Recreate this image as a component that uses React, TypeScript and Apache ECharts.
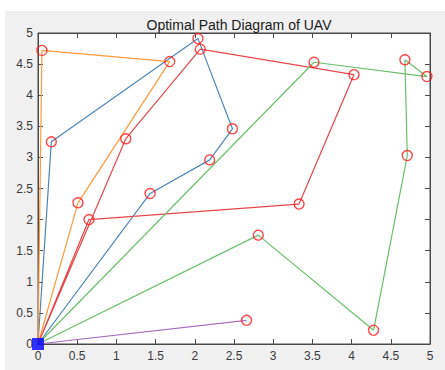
import React, { useEffect, useRef } from "react";
import * as echarts from "echarts";

const title = "Optimal Path Diagram of UAV";
const origin: [number, number] = [0, 0];
const bluePath: [number, number][] = [[0, 0], [0.17, 3.25], [2.04, 4.91], [2.48, 3.46], [2.19, 2.96], [1.43, 2.42], [0, 0]];
const orangePath: [number, number][] = [[0, 0], [0.05, 4.72], [1.68, 4.54], [0.51, 2.27], [0, 0]];
const redPath: [number, number][] = [[0, 0], [0.65, 2.0], [3.33, 2.25], [4.03, 4.33], [2.07, 4.74], [1.12, 3.3], [0, 0]];
const greenPath: [number, number][] = [[0, 0], [3.52, 4.53], [4.96, 4.3], [4.68, 4.57], [4.71, 3.03], [4.28, 0.22], [2.81, 1.75], [0, 0]];
const purplePath: [number, number][] = [[0, 0], [2.66, 0.38], [0, 0]];

const pathColors = ["#4f86b8", "#ff9a3c", "#e8474a", "#6cbf6c", "#a66cc1"];
const paths = [bluePath, orangePath, redPath, greenPath, purplePath];

export default function App() {
  const ref = useRef<HTMLDivElement>(null);
  useEffect(() => {
    if (!ref.current) return;
    const chart = echarts.init(ref.current, undefined, { renderer: "svg" });
    const axisCommon = {
      type: "value" as const,
      min: 0,
      max: 5,
      interval: 0.5,
      splitLine: { show: false },
      axisLine: { show: true, onZero: false, lineStyle: { color: "#4a4a4a", width: 1 } },
      axisTick: { show: true, inside: true, length: 5, lineStyle: { color: "#4a4a4a" } },
    };
    const labelStyle = {
      color: "#3a3a3a",
      fontSize: 12,
      fontFamily: "Liberation Sans, Arial, sans-serif",
      formatter: (v: number) => String(v),
    };
    const waypoints: [number, number][] = [];
    paths.forEach((p) => p.forEach((pt) => {
      if (!(pt[0] === 0 && pt[1] === 0)) waypoints.push(pt);
    }));
    const series: any[] = paths.map((p, i) => ({
      type: "line",
      data: p,
      symbol: "none",
      lineStyle: { color: pathColors[i], width: 1.2 },
      z: 2,
    }));
    series.push({
      type: "scatter",
      data: waypoints,
      symbol: "circle",
      symbolSize: 10,
      itemStyle: { color: "rgba(255,255,255,0)", borderColor: "#ff1a1a", borderWidth: 1.4 },
      z: 3,
    });
    series.push({
      type: "scatter",
      data: [origin],
      symbol: "rect",
      symbolSize: 12,
      itemStyle: { color: "#0000ff" },
      z: 4,
    });
    chart.setOption({
      animation: false,
      backgroundColor: "#f0f0f0",
      title: {
        text: title,
        left: 229,
        top: 2,
        textAlign: "center",
        textStyle: { fontSize: 14, fontWeight: "normal", color: "#1a1a1a", fontFamily: "Liberation Sans, Arial, sans-serif" },
      },
      grid: {
        left: 33,
        right: 15,
        top: 22,
        bottom: 26,
        show: true,
        backgroundColor: "#ffffff",
        borderColor: "#4a4a4a",
        borderWidth: 1,
      },
      xAxis: [
        { ...axisCommon, position: "bottom", axisLabel: { ...labelStyle, margin: 6 } },
        { ...axisCommon, position: "top", axisLabel: { show: false } },
      ],
      yAxis: [
        { ...axisCommon, position: "left", axisLabel: { ...labelStyle, margin: 5 } },
        { ...axisCommon, position: "right", axisLabel: { show: false } },
      ],
      series,
    });
    return () => chart.dispose();
  }, []);
  return (
    <div style={{ position: "fixed", left: 0, top: 0, width: 445, height: 370, background: "#ffffff" }}>
      <div ref={ref} style={{ position: "absolute", left: 5, top: 11, width: 440, height: 359 }} />
    </div>
  );
}
